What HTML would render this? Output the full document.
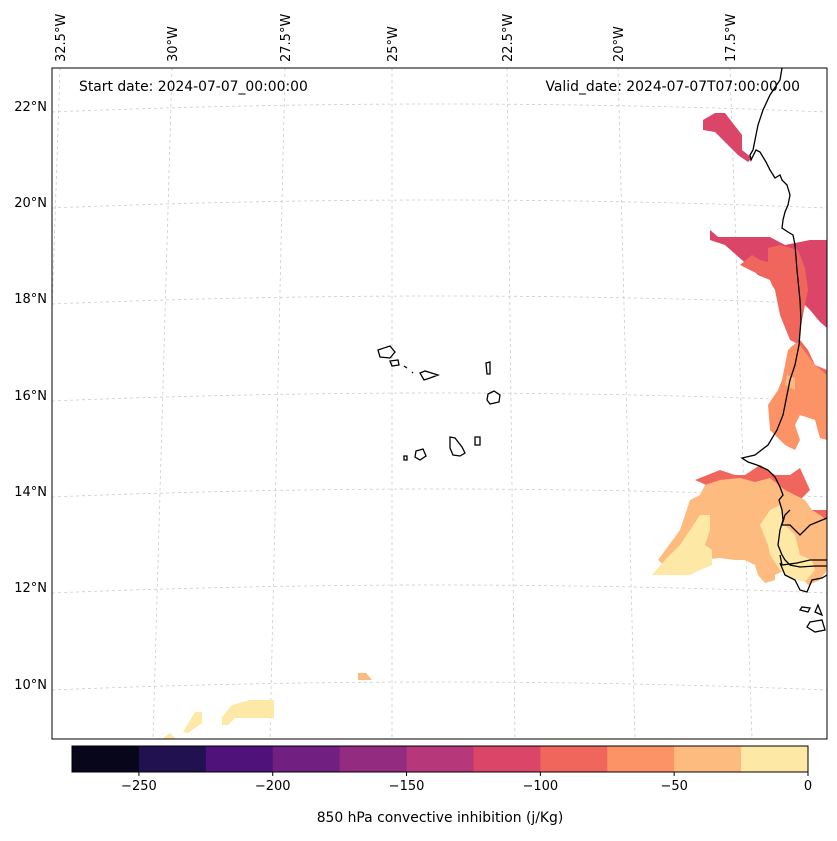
<!DOCTYPE html>
<html><head><meta charset="utf-8"><style>
body{margin:0;background:#fff;font-family:"Liberation Sans","DejaVu Sans",sans-serif}
svg text{font-family:"DejaVu Sans","Liberation Sans",sans-serif;font-size:13px;fill:#000}
svg text.big{font-size:13.9px}
</style></head><body>
<svg width="837" height="836" viewBox="0 0 837 836">
<defs><clipPath id="mc"><rect x="52" y="68" width="775" height="671"/></clipPath></defs>
<g id="grid" stroke="#ccc" stroke-width="0.8" stroke-dasharray="3,3" fill="none" clip-path="url(#mc)"></g>
<g id="fills" clip-path="url(#mc)"></g>
<g clip-path="url(#mc)" fill="none" stroke="#000" stroke-width="1.3">
<path d="M782,68 L780,80 L770,95 L763,110 L758,125 L755,140 L753,150 L750,155 L751,160 L756,150 L760,152 L766,162 L770,170 L775,178 L780,175 L782,180 L787,185 L790,195 L788,205 L785,212 L783,220 L782,228 L788,232 L793,235 L795,245 L797,270 L800,300 L801,320 L799,345 L795,365 L790,380 L787,395 L783,415 L777,430 L768,445 L755,455 L742,458 L748,462 L757,465 L768,470 L775,477 L780,487 L783,495 L779,500 L782,510 L783,520 L780,530 L778,545 L782,555 L785,560 L790,565 L800,567 L815,566 L827,566"/>
<path d="M790,510 L785,515 L782,525 L790,525 L795,530 L800,535 L805,530 L810,525 L827,518"/>
<path d="M780,555 L782,565 L797,563 L810,560 L827,560"/>
<path d="M780,563 L785,575 L795,580 L800,590 L807,592 L812,580 L822,578 L827,575"/>
<path d="M800,610 L808,612 L810,608 L802,607 Z M815,612 L822,615 L818,605 Z M807,627 L815,632 L825,630 L822,620 L810,622 Z"/>
<path d="M378,350 L390,346 L395,352 L390,358 L380,357 Z M390,361 L398,360 L399,365 L392,366 Z M404,366 L407,368 M412,372 L413,373 M420,373 L425,371 L438,375 L430,378 L424,380 Z M486,363 L490,362 L490,374 L487,374 Z M488,394 L494,391 L500,395 L499,402 L490,404 L487,400 Z M450,437 L455,438 L462,447 L465,453 L460,456 L453,455 L450,448 Z M475,437 L480,437 L480,445 L475,445 Z M416,451 L423,449 L426,456 L420,460 L415,457 Z M404,456 L407,456 L407,460 L404,460 Z"/>
</g>
<rect x="52" y="68" width="775" height="671" fill="none" stroke="#000" stroke-width="1"/>
<text class="big" x="79" y="91">Start date: 2024-07-07_00:00:00</text>
<text class="big" x="800" y="91" text-anchor="end">Valid_date: 2024-07-07T07:00:00.00</text>
<g id="lat"></g>
<g id="lon"></g>
<g id="cbar"></g>
<text class="big" x="440" y="822" text-anchor="middle">850 hPa convective inhibition (j/Kg)</text>
</svg>
<script>
const NS="http://www.w3.org/2000/svg";
const levels=[-275,-250,-225,-200,-175,-150,-125,-100,-75,-50,-25,0];
const colors=["#07061a","#221150","#4f127b","#711f81","#932b80","#b6377a","#da4568","#f1665c","#fc9366","#febb80","#fde8a5"];
const tickVals=[-250,-200,-150,-100,-50,0];
const latVals=[22,20,18,16,14,12,10];
const latY=[106,202,298,395,491,587,684];
const lonVals=["32.5°W","30°W","27.5°W","25°W","22.5°W","20°W","17.5°W"];
const lonTop=[60,172,285,392,507,618,730];
const lonBot=[38,153,270,392,515,635,752];
function el(t,a,p){const e=document.createElementNS(NS,t);for(const k in a)e.setAttribute(k,a[k]);p.appendChild(e);return e;}
const grid=document.getElementById('grid');
latVals.forEach((v,i)=>{const y=latY[i];const l=el('path',{d:`M52,${y+6} Q440,${y-10} 827,${y+6}`},grid);


const t=el('text',{x:47,y:y+5,'text-anchor':'end'},document.getElementById('lat'));t.textContent=v+"°N";

});
lonVals.forEach((v,i)=>{const l=el('line',{x1:lonTop[i],y1:68,x2:lonBot[i],y2:739},grid);


const t=el('text',{transform:`translate(${lonTop[i]+5},62) rotate(-90)`},document.getElementById('lon'));t.textContent=v;

});
const regions=[
[6,"703,120 715,113 725,113 742,135 742,150 752,158 748,162 738,155 728,145 715,132 703,130"],
[5,"710,230 718,237 710,240"],
[6,"710,230 718,237 770,237 785,245 810,240 827,240 827,328 820,322 810,310 800,300 790,290 775,282 758,275 742,260 725,245 710,240"],
[7,"740,265 752,255 760,260 768,262 768,248 780,245 798,250 805,268 808,290 800,330 800,345 790,340 780,315 775,290 772,285 770,280"],
[7,"790,348 800,340 808,350 815,365 827,370 827,380 815,380"],
[8,"788,350 798,342 805,352 815,365 827,375 827,440 820,438 815,420 800,415 795,425 800,440 795,450 785,445 780,440 770,430 768,405 778,390 782,380"],
[9,"795,378 787,375 785,385 795,390"],
[7,"695,480 720,470 735,475 745,475 760,465 775,475 790,475 800,468 810,490 800,500 810,510 827,510 827,570 815,580 810,575 800,565 785,560 780,540 778,530 770,525 760,518 740,500"],
[9,"658,560 680,530 690,500 700,495 705,485 720,480 740,478 755,482 770,478 785,490 795,495 805,500 812,510 820,515 827,520 827,570 820,580 808,585 800,575 785,570 775,575 775,580 765,583 758,575 755,565 745,560 735,560 720,558 700,560 690,565 670,570"],
[10,"652,575 665,560 680,545 690,530 700,515 710,515 710,530 705,545 712,550 712,565 700,570 690,575 652,575"],
[10,"760,525 770,510 780,505 785,525 795,535 800,555 812,560 815,570 805,582 790,578 780,570 770,555 768,545"],
[9,"358,673 366,673 372,680 358,680"],
[10,"222,717 232,705 250,700 274,700 274,718 235,718 228,725 222,725"],
[10,"183,732 195,712 202,712 202,723 188,733"],
[10,"162,739 170,733 176,739"]
];
const fills=document.getElementById('fills');
regions.forEach(r=>{const p=el('polygon',{points:r[1],fill:colors[r[0]]},fills);

});
const cb=document.getElementById('cbar');const x0=72,x1=808,cy=746,ch=26;
const sx=v=>x0+(v-levels[0])/(levels[levels.length-1]-levels[0])*(x1-x0);
colors.forEach((c,i)=>{const r=el('rect',{x:sx(levels[i]),y:cy,width:sx(levels[i+1])-sx(levels[i])+0.5,height:ch,fill:c},cb);

});
el('rect',{x:x0,y:cy,width:x1-x0,height:ch,fill:'none',stroke:'#000','stroke-width':1},cb);
tickVals.forEach(v=>{el('line',{x1:sx(v),y1:cy+ch,x2:sx(v),y2:cy+ch+4,stroke:'#000'},cb);
const t=el('text',{x:sx(v),y:cy+ch+18,'text-anchor':'middle'},cb);t.textContent=(v<0?'\u2212'+(-v):v);

});
</script>
</body></html>
